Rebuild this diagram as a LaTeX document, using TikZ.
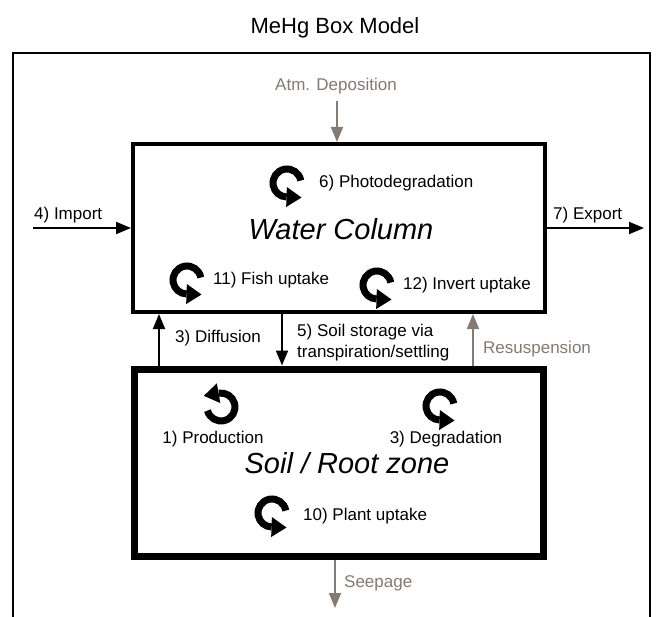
\documentclass[tikz,border=0pt]{standalone}
\usepackage{fontspec}
\setmainfont{Liberation Sans}
\usetikzlibrary{arrows.meta}
\definecolor{tgray}{RGB}{133,122,114}
\tikzset{
  lbl/.style={font=\fontsize{17}{20}\selectfont, inner sep=0pt},
  glbl/.style={lbl, text=tgray},
  big/.style={font=\fontsize{29}{34}\selectfont\itshape, inner sep=0pt},
  flow/.style={line width=1.8pt, -{Triangle[length=15pt,width=12pt]}},
  gflow/.style={flow, draw=tgray},
  boxw/.style={draw, line width=4pt, inner sep=0pt},
  boxs/.style={draw, line width=7pt, inner sep=0pt},
  ring/.style={line width=7pt}
}
% circular arrow: #1 centre, #2 start angle, #3 end angle (counter-clockwise, y up)
\newcommand\cycsym[3]{%
  \begin{scope}[shift={#1}, yscale=-1]
    \draw[ring] (#2:14) arc[start angle=#2, end angle=#3, radius=14];
    \fill (#3:4) -- (#3:24) -- ([shift={(#3+90:15)}]#3:14) -- cycle;
  \end{scope}}
\begin{document}
\begin{tikzpicture}[x=1pt,y=-1pt]
\useasboundingbox (0,0) rectangle (658,617);
\fill[white] (0,0) rectangle (658,617);
\node[font=\fontsize{22}{26}\selectfont, inner sep=0pt, anchor=base] (title) at (335,34) {MeHg Box Model};
\draw[line width=2pt] (13,617) -- (13,53) -- (650,53) -- (650,617);

\node[boxw, minimum width=411.5pt, minimum height=168pt] (water) at (338.75,228) {};
\node[boxs, minimum width=409.5pt, minimum height=187.5pt] (soil) at (338.75,462.75) {};

\node[big, anchor=base] (wc) at (341,240) {Water Column};
\node[big, anchor=base] (sr) at (347,473) {Soil / Root zone};

% atm deposition
\node[glbl, anchor=base] (atm) at (336,91) {Atm. Deposition};
\coordinate (atmtop) at (337,101);
\draw[gflow] (atmtop) -- (water.north -| atmtop);

% import / export
\coordinate (imp) at (33,228);
\coordinate (exp) at (644,228);
\node[lbl, anchor=base west] (impl) at (34,220) {4) Import};
\node[lbl, anchor=base west] (expl) at (553,220) {7) Export};
\draw[flow] (imp) -- (water.west |- imp);
\draw[flow] (water.east |- exp) -- (exp);

% between boxes
\coordinate (dif) at (159,0);
\coordinate (sto) at (282,0);
\coordinate (res) at (473,0);
\draw[flow] (soil.north -| dif) -- (water.south -| dif);
\draw[flow] (water.south -| sto) -- (soil.north -| sto);
\draw[gflow] (soil.north -| res) -- (water.south -| res);
\node[lbl, anchor=base west] (difl) at (175,342) {3) Diffusion};
\node[lbl, anchor=base west] (stol) at (297,337) {5) Soil storage via};
\node[lbl, anchor=base west] (stol2) at (297,357) {transpiration/settling};
\node[glbl, anchor=base west] (resl) at (483,353) {Resuspension};

% seepage
\coordinate (seep) at (335,608);
\draw[gflow] (soil.south -| seep) -- (seep);
\node[glbl, anchor=base west] (seepl) at (344,587) {Seepage};

% cycles in water column
\cycsym{(287,183)}{10}{268}
\node[lbl, anchor=base west] (pd) at (319,188) {6) Photodegradation};
\cycsym{(187,280)}{10}{268}
\node[lbl, anchor=base west] (fu) at (213,285) {11) Fish uptake};
\cycsym{(377,285)}{10}{268}
\node[lbl, anchor=base west] (iu) at (403,290) {12) Invert uptake};

% cycles in soil
\cycsym{(221,407)}{-165}{100}
\node[lbl, anchor=base] (pr) at (213,443) {1) Production};
\cycsym{(440,406)}{10}{268}
\node[lbl, anchor=base] (dg) at (446,443) {3) Degradation};
\cycsym{(272,513)}{10}{268}
\node[lbl, anchor=base west] (pu) at (303,520) {10) Plant uptake};
\end{tikzpicture}
\end{document}
